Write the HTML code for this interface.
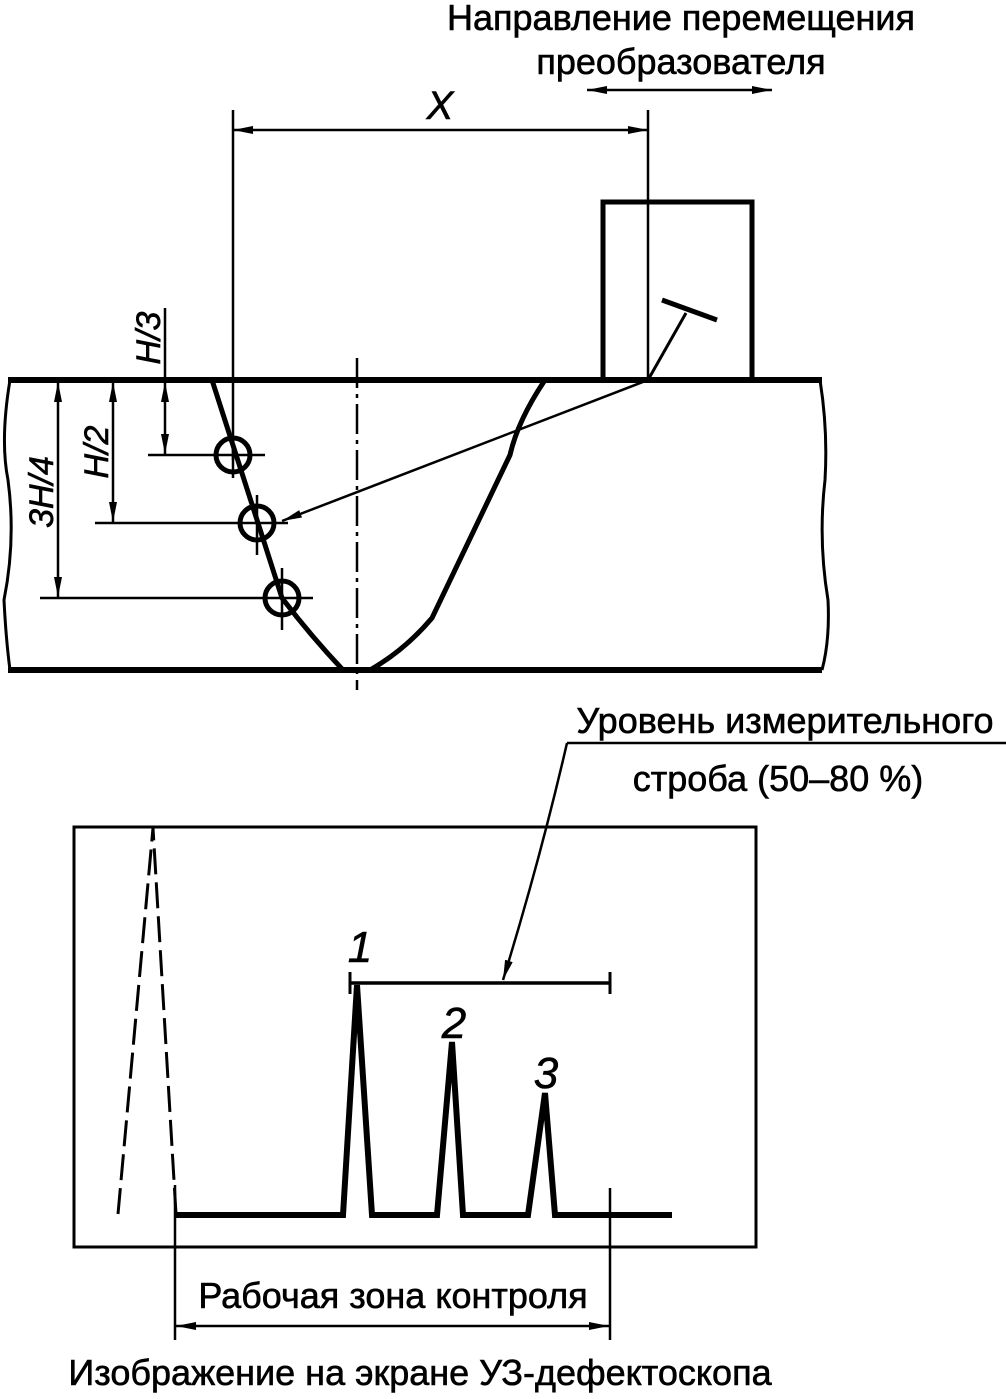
<!DOCTYPE html>
<html><head><meta charset="utf-8"><style>body{margin:0;background:#fff}</style></head><body>
<svg width="1006" height="1394" viewBox="0 0 1006 1394" xmlns="http://www.w3.org/2000/svg" font-family="Liberation Sans, sans-serif">
<defs>
<marker id="a" viewBox="0 0 20 8" refX="20" refY="4" markerWidth="20" markerHeight="8" markerUnits="userSpaceOnUse" orient="auto-start-reverse"><path d="M0,0 L20,4 L0,8 Z" fill="#000"/></marker>
</defs>
<g fill="#000" stroke="#000" stroke-width="0.6" font-size="36">
<text x="681" y="30" text-anchor="middle">Направление перемещения</text>
<text x="681" y="74" text-anchor="middle">преобразователя</text>
<text x="440" y="119" text-anchor="middle" font-style="italic" font-size="40">X</text>
<text x="785" y="733" text-anchor="middle">Уровень измерительного</text>
<text x="778" y="791" text-anchor="middle">строба (50–80 %)</text>
<text x="393" y="1308" text-anchor="middle">Рабочая зона контроля</text>
<text x="420" y="1385" text-anchor="middle">Изображение на экране УЗ-дефектоскопа</text>
<text x="360" y="962" text-anchor="middle" font-style="italic" font-size="44">1</text>
<text x="454" y="1038" text-anchor="middle" font-style="italic" font-size="44">2</text>
<text x="546" y="1088" text-anchor="middle" font-style="italic" font-size="44">3</text>
<text transform="translate(160,338) rotate(-90)" text-anchor="middle" font-style="italic" font-size="34">H/3</text>
<text transform="translate(108,452) rotate(-90)" text-anchor="middle" font-style="italic" font-size="34">H/2</text>
<text transform="translate(53,492) rotate(-90)" text-anchor="middle" font-style="italic" font-size="34">3H/4</text>
</g>
<g stroke="#000" fill="none">
<line x1="587" y1="90" x2="772" y2="90" stroke-width="2.5" marker-start="url(#a)" marker-end="url(#a)"/>
<line x1="233" y1="130" x2="648" y2="130" stroke-width="2.5" marker-start="url(#a)" marker-end="url(#a)"/>
<line x1="233" y1="110" x2="233" y2="460" stroke-width="2.5"/>
<line x1="648" y1="110" x2="648" y2="380" stroke-width="2.5"/>
<rect x="603" y="202" width="149" height="178" stroke-width="5"/>
<line x1="648" y1="380" x2="686" y2="313" stroke-width="3"/>
<line x1="662" y1="300" x2="717" y2="320" stroke-width="5"/>
<line x1="8" y1="380" x2="822" y2="380" stroke-width="6"/>
<line x1="8" y1="670" x2="822" y2="670" stroke-width="6"/>
<path d="M10,380 Q0,440 8,480 Q16,540 4,600 Q6,640 10,670" stroke-width="3"/>
<path d="M820,380 Q828,430 825,480 Q818,540 828,600 Q830,640 822,670" stroke-width="3"/>
<path d="M212,380 L258,523 L282,598 Q310,635 343,670" stroke-width="5"/>
<path d="M545,380 Q518,420 510,455 L432,618 Q405,650 370,670" stroke-width="5"/>
<line x1="357" y1="358" x2="357" y2="690" stroke-width="2.5" stroke-dasharray="30,6,4,6"/>
<line x1="648" y1="380" x2="282" y2="521" stroke-width="2.5" marker-end="url(#a)"/>
<g stroke-width="5"><circle cx="233" cy="455" r="17"/><circle cx="257" cy="523" r="17"/><circle cx="282" cy="598" r="17"/></g>
<g stroke-width="2.5">
<line x1="148" y1="455" x2="265" y2="455"/><line x1="233" y1="440" x2="233" y2="478"/>
<line x1="95" y1="523" x2="288" y2="523"/><line x1="257" y1="495" x2="257" y2="555"/>
<line x1="40" y1="598" x2="313" y2="598"/><line x1="282" y1="568" x2="282" y2="630"/>
<line x1="165" y1="308" x2="165" y2="380"/>
<line x1="165" y1="382" x2="165" y2="454" marker-start="url(#a)" marker-end="url(#a)"/>
<line x1="113" y1="382" x2="113" y2="522" marker-start="url(#a)" marker-end="url(#a)"/>
<line x1="58" y1="382" x2="58" y2="597" marker-start="url(#a)" marker-end="url(#a)"/>
</g>
<line x1="567" y1="743" x2="1006" y2="743" stroke-width="2.5"/>
<path d="M567,743 Q540,860 503,980" stroke-width="2.5" marker-end="url(#a)"/>
<rect x="74" y="827" width="682" height="420" stroke-width="3"/>
<path d="M118,1214 L153,828 L176,1214" stroke-width="3" stroke-dasharray="26,8"/>
<path d="M176,1215 L343,1215 L357,985 L372,1215 L437,1215 L452,1042 L463,1215 L528,1215 L545,1093 L555,1215 L672,1215" stroke-width="6" stroke-linejoin="miter"/>
<line x1="350" y1="983" x2="610" y2="983" stroke-width="3.5"/>
<line x1="350" y1="972" x2="350" y2="994" stroke-width="3"/>
<line x1="610" y1="972" x2="610" y2="994" stroke-width="3"/>
<line x1="175" y1="1185" x2="175" y2="1340" stroke-width="2.5"/>
<line x1="610" y1="1188" x2="610" y2="1340" stroke-width="2.5"/>
<line x1="176" y1="1326" x2="609" y2="1326" stroke-width="2.5" marker-start="url(#a)" marker-end="url(#a)"/>
</g>
</svg>
</body></html>
